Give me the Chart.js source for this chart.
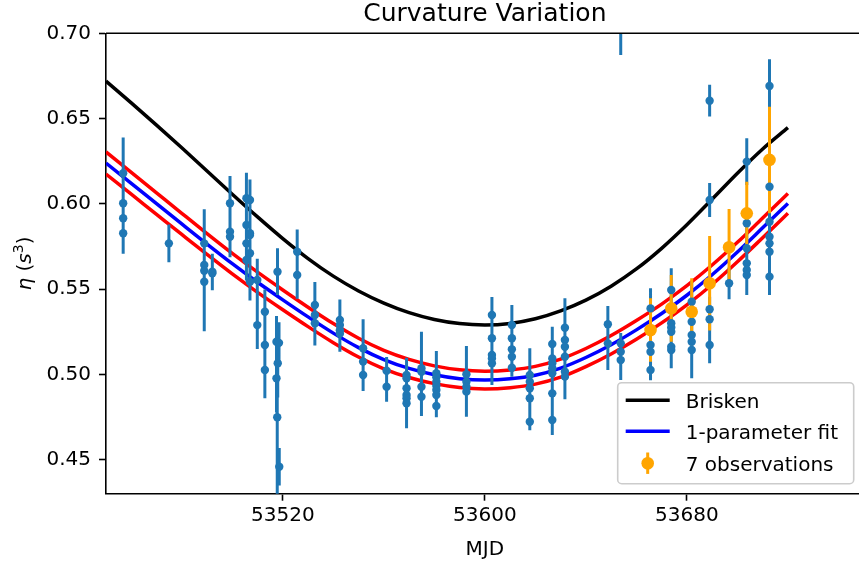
<!DOCTYPE html>
<html>
<head>
<meta charset="utf-8">
<title>Curvature Variation</title>
<script src="https://cdn.jsdelivr.net/npm/chart.js@4.4.1/dist/chart.umd.min.js"></script>
<style>
  html, body { margin: 0; padding: 0; background: #fff; overflow: hidden; }
  canvas { display: block; }
</style>
</head>
<body>
<canvas id="curvChart" width="870" height="567"></canvas>
<script>
const FONT = 'DejaVu Sans';

// tick positions
const xTicks = [53520, 53600, 53680];
const yTicks = [0.45, 0.50, 0.55, 0.60, 0.65, 0.70];

// model curves, every 10 days
const modelMjd = [53450, 53460, 53470, 53480, 53490, 53500, 53510, 53520, 53530, 53540,
                  53550, 53560, 53570, 53580, 53590, 53600, 53610, 53620, 53630, 53640,
                  53650, 53660, 53670, 53680, 53690, 53700, 53710, 53720];
const briskenEta = [0.6720, 0.6592, 0.6462, 0.6329, 0.6193, 0.6057, 0.5924, 0.5797, 0.5680, 0.5577,
                    0.5490, 0.5419, 0.5363, 0.5323, 0.5299, 0.5291, 0.5300, 0.5327, 0.5373, 0.5436,
                    0.5518, 0.5619, 0.5740, 0.5878, 0.6028, 0.6180, 0.6322, 0.6447];
const fitEta = [0.6240, 0.6121, 0.6002, 0.5883, 0.5765, 0.5650, 0.5541, 0.5438, 0.5338, 0.5243,
                0.5158, 0.5088, 0.5036, 0.4999, 0.4976, 0.4968, 0.4975, 0.4996, 0.5038, 0.5100,
                0.5175, 0.5262, 0.5358, 0.5465, 0.5585, 0.5718, 0.5860, 0.6003];
const fitUpper = [0.6305, 0.6185, 0.6065, 0.5945, 0.5826, 0.5710, 0.5600, 0.5496, 0.5395, 0.5299,
                  0.5213, 0.5142, 0.5089, 0.5051, 0.5028, 0.5020, 0.5027, 0.5048, 0.5091, 0.5153,
                  0.5229, 0.5317, 0.5413, 0.5521, 0.5642, 0.5775, 0.5918, 0.6061];
const fitLower = [0.6175, 0.6057, 0.5939, 0.5821, 0.5704, 0.5590, 0.5482, 0.5380, 0.5281, 0.5187,
                  0.5103, 0.5034, 0.4983, 0.4947, 0.4924, 0.4916, 0.4923, 0.4944, 0.4985, 0.5047,
                  0.5121, 0.5207, 0.5303, 0.5409, 0.5528, 0.5661, 0.5802, 0.5945];

// all measurements (blue), one line per observing day
const obsMjd = [
  53456.8, 53456.8, 53456.8, 53456.8,
  53474.9,
  53488.9, 53488.9, 53488.9, 53488.9, 53492.1, 53492.1,
  53499.1, 53499.1, 53499.1,
  53505.6, 53505.6, 53505.6, 53505.6, 53507.0, 53507.0, 53507.0, 53507.0, 53507.0,
  53509.9, 53509.9,
  53512.9, 53512.9, 53512.9,
  53517.9, 53517.5, 53518.5, 53518.0, 53517.5, 53517.8, 53518.6,
  53525.7, 53525.7,
  53532.7, 53532.7, 53532.7,
  53542.6, 53542.6, 53542.6, 53542.6,
  53551.8, 53551.8, 53551.8,
  53561.1, 53561.1,
  53569.0, 53569.0, 53569.0, 53569.0, 53569.0, 53569.0,
  53574.9, 53574.9, 53574.9, 53574.9,
  53580.8, 53580.8, 53580.8, 53580.8, 53580.8, 53580.8, 53580.8,
  53592.7, 53592.7, 53592.7, 53592.7,
  53602.8, 53602.8, 53602.8, 53602.8, 53602.8,
  53610.7, 53610.7, 53610.7, 53610.7, 53610.7,
  53617.8, 53617.8, 53617.8, 53617.8, 53617.8,
  53626.7, 53626.7, 53626.7, 53626.7, 53626.7, 53626.7, 53626.7,
  53631.7, 53631.7, 53631.7, 53631.7, 53631.7, 53631.7,
  53648.7, 53648.7,
  53653.8, 53653.8, 53653.8, 53653.8,
  53665.6, 53665.6, 53665.6, 53665.6,
  53673.8, 53673.8, 53673.8, 53673.8, 53673.8, 53673.8,
  53681.9, 53681.9, 53681.9, 53681.9, 53681.9,
  53689.0, 53689.0, 53689.0, 53689.0, 53689.0,
  53696.7,
  53703.7, 53703.7, 53703.7, 53703.7, 53703.7, 53703.7,
  53712.7, 53712.7, 53712.7, 53712.7, 53712.7, 53712.7, 53712.7
];
const obsEta = [
  0.6180, 0.6004, 0.5916, 0.5828,
  0.5769,
  0.5769, 0.5642, 0.5609, 0.5544, 0.5603, 0.5594,
  0.6004, 0.5837, 0.5808,
  0.6033, 0.5877, 0.5769, 0.5672, 0.6023, 0.5828, 0.5818, 0.5711, 0.5544,
  0.5554, 0.5290,
  0.5368, 0.5173, 0.5027,
  0.5603, 0.5193, 0.5186, 0.5066, 0.4978, 0.4750, 0.4460,
  0.5720, 0.5584,
  0.5408, 0.5349, 0.5301,
  0.5320, 0.5290, 0.5260, 0.5240,
  0.5154, 0.5076, 0.4998,
  0.5023, 0.4929,
  0.4998, 0.4978, 0.4920, 0.4880, 0.4861, 0.4832,
  0.5037, 0.5017, 0.4929, 0.4870,
  0.5008, 0.4985, 0.4958, 0.4935, 0.4910, 0.4880, 0.4816,
  0.5002, 0.4958, 0.4929, 0.4900,
  0.5349, 0.5213, 0.5115, 0.5095, 0.5066,
  0.5291, 0.5213, 0.5148, 0.5105, 0.5040,
  0.4998, 0.4958, 0.4920, 0.4861, 0.4724,
  0.5179, 0.5095, 0.5066, 0.5037, 0.5008, 0.4890, 0.4734,
  0.5275, 0.5203, 0.5163, 0.5105, 0.5017, 0.4988,
  0.5295, 0.5183,
  0.5183, 0.5134, 0.5085, 0.7120,
  0.5388, 0.5173, 0.5134, 0.5027,
  0.5496, 0.5301, 0.5276, 0.5251, 0.5163, 0.5144,
  0.5427, 0.5310, 0.5232, 0.5193, 0.5144,
  0.6605, 0.6023, 0.5383, 0.5324, 0.5173,
  0.5535,
  0.6248, 0.5887, 0.5740, 0.5652, 0.5613, 0.5584,
  0.6691, 0.6101, 0.5896, 0.5808, 0.5769, 0.5720, 0.5574
];
const obsErr = [
  0.0210, 0.0180, 0.0150, 0.0120,
  0.0110,
  0.0200, 0.0150, 0.0120, 0.0290, 0.0105, 0.0100,
  0.0160, 0.0150, 0.0120,
  0.0150, 0.0140, 0.0150, 0.0120, 0.0120, 0.0140, 0.0120, 0.0150, 0.0110,
  0.0125, 0.0140,
  0.0130, 0.0140, 0.0165,
  0.0137, 0.0150, 0.0120, 0.0200, 0.0200, 0.0450, 0.0110,
  0.0130, 0.0140,
  0.0135, 0.0120, 0.0130,
  0.0120, 0.0100, 0.0110, 0.0106,
  0.0170, 0.0120, 0.0094,
  0.0080, 0.0088,
  0.0050, 0.0120, 0.0130, 0.0140, 0.0130, 0.0147,
  0.0214, 0.0150, 0.0150, 0.0113,
  0.0130, 0.0120, 0.0150, 0.0120, 0.0140, 0.0130, 0.0066,
  0.0165, 0.0140, 0.0130, 0.0147,
  0.0106, 0.0150, 0.0150, 0.0140, 0.0127,
  0.0117, 0.0120, 0.0120, 0.0110, 0.0052,
  0.0156, 0.0120, 0.0130, 0.0130, 0.0050,
  0.0102, 0.0120, 0.0120, 0.0130, 0.0120, 0.0150, 0.0088,
  0.0172, 0.0120, 0.0120, 0.0120, 0.0120, 0.0133,
  0.0107, 0.0156,
  0.0060, 0.0100, 0.0117, 0.0247,
  0.0118, 0.0120, 0.0120, 0.0060,
  0.0127, 0.0120, 0.0120, 0.0120, 0.0120, 0.0107,
  0.0120, 0.0120, 0.0120, 0.0120, 0.0166,
  0.0093, 0.0100, 0.0073, 0.0120, 0.0107,
  0.0093,
  0.0137, 0.0040, 0.0120, 0.0120, 0.0120, 0.0118,
  0.0157, 0.0120, 0.0120, 0.0120, 0.0120, 0.0120, 0.0108
];

// the 7 highlighted observations (orange)
const sevenMjd = [53665.6, 53673.8, 53681.9, 53689.0, 53696.7, 53703.7, 53712.7];
const sevenEta = [0.5261, 0.5388, 0.5368, 0.5535, 0.5746, 0.5945, 0.6258];
const sevenErr = [0.0186, 0.0196, 0.0196, 0.0277, 0.0224, 0.0185, 0.0312];

function toPoints(xs, ys) {
  return xs.map((x, i) => ({ x: x, y: ys[i] }));
}

// vertical error bars, drawn through the chart scales
function drawBars(ctx, xs, ys, xv, yv, ev, color) {
  ctx.strokeStyle = color;
  ctx.lineWidth = 3;
  ctx.beginPath();
  for (let i = 0; i < xv.length; i++) {
    const px = xs.getPixelForValue(xv[i]);
    ctx.moveTo(px, ys.getPixelForValue(yv[i] - ev[i]));
    ctx.lineTo(px, ys.getPixelForValue(yv[i] + ev[i]));
  }
  ctx.stroke();
}

// bars go under the markers but over the model curves (like matplotlib zorder)
const errorBarPlugin = {
  id: 'errorBars',
  beforeDatasetDraw(chart, args) {
    if (args.index !== 4) return;
    const a = chart.chartArea;
    const ctx = chart.ctx;
    ctx.save();
    ctx.beginPath();
    ctx.rect(a.left, a.top, a.right - a.left, a.bottom - a.top);
    ctx.clip();
    drawBars(ctx, chart.scales.x, chart.scales.y, obsMjd, obsEta, obsErr, '#1f77b4');
    drawBars(ctx, chart.scales.x, chart.scales.y, sevenMjd, sevenEta, sevenErr, '#ffa500');
    ctx.restore();
  }
};

// title, axis labels, frame and the legend box
const decorPlugin = {
  id: 'decor',
  afterDraw(chart) {
    const ctx = chart.ctx;
    const a = chart.chartArea;
    ctx.save();

    // top and right spines
    ctx.strokeStyle = '#000';
    ctx.lineWidth = 1.6;
    ctx.beginPath();
    ctx.moveTo(a.left, a.top);
    ctx.lineTo(a.right, a.top);
    ctx.lineTo(a.right, a.bottom);
    ctx.stroke();

    ctx.fillStyle = '#000';
    ctx.textBaseline = 'alphabetic';
    ctx.textAlign = 'center';
    ctx.font = '25px "' + FONT + '"';
    ctx.fillText('Curvature Variation', (a.left + a.right) / 2, a.top - 12);

    ctx.font = '20px "' + FONT + '"';
    ctx.fillText('MJD', (a.left + a.right) / 2, a.bottom + 61.5);

    // y label: eta (s^3), mathtext style
    const parts = [
      { t: 'η', f: 'italic 20px', dy: 0 },
      { t: ' (', f: '20px', dy: 0 },
      { t: 's', f: 'italic 20px', dy: 0 },
      { t: '3', f: '14px', dy: -8 },
      { t: ')', f: '20px', dy: 0 }
    ];
    let total = 0;
    parts.forEach(p => {
      ctx.font = p.f + ' "' + FONT + '"';
      p.w = ctx.measureText(p.t).width;
      total += p.w;
    });
    ctx.translate(30.5, (a.top + a.bottom) / 2);
    ctx.rotate(-Math.PI / 2);
    ctx.textAlign = 'left';
    let cx = -total / 2;
    parts.forEach(p => {
      ctx.font = p.f + ' "' + FONT + '"';
      ctx.fillText(p.t, cx, p.dy);
      cx += p.w;
    });
    ctx.setTransform(1, 0, 0, 1, 0, 0);

    // legend, lower right inside the axes
    const w = 236, h = 101;
    const lx = a.right - 10 - w;
    const ly = a.bottom - 10 - h;
    ctx.fillStyle = 'rgba(255,255,255,0.8)';
    ctx.strokeStyle = '#cccccc';
    ctx.lineWidth = 1.6;
    ctx.beginPath();
    ctx.roundRect(lx, ly, w, h, 4);
    ctx.fill();
    ctx.stroke();

    const ds = chart.data.datasets;
    const rows = [
      { label: ds[0].label, color: ds[0].borderColor, kind: 'line', y: ly + 17.5 },
      { label: ds[1].label, color: ds[1].borderColor, kind: 'line', y: ly + 48.5 },
      { label: ds[5].label, color: ds[5].backgroundColor, kind: 'err', y: ly + 80.5 }
    ];
    rows.forEach(r => {
      if (r.kind === 'line') {
        ctx.strokeStyle = r.color;
        ctx.lineWidth = 3.5;
        ctx.beginPath();
        ctx.moveTo(lx + 8, r.y);
        ctx.lineTo(lx + 52, r.y);
        ctx.stroke();
      } else {
        ctx.strokeStyle = r.color;
        ctx.lineWidth = 3;
        ctx.beginPath();
        ctx.moveTo(lx + 30, r.y - 10.7);
        ctx.lineTo(lx + 30, r.y + 10.7);
        ctx.stroke();
        ctx.fillStyle = r.color;
        ctx.beginPath();
        ctx.arc(lx + 30, r.y, 6.3, 0, Math.PI * 2);
        ctx.fill();
      }
      ctx.fillStyle = '#000';
      ctx.font = '20px "' + FONT + '"';
      ctx.textAlign = 'left';
      ctx.fillText(r.label, lx + 68, r.y + 7.3);
    });
    ctx.restore();
  }
};

const lineStyle = { type: 'line', pointRadius: 0, borderWidth: 3.5, cubicInterpolationMode: 'monotone', fill: false };

new Chart(document.getElementById('curvChart'), {
  type: 'scatter',
  data: {
    datasets: [
      Object.assign({}, lineStyle, { label: 'Brisken', data: toPoints(modelMjd, briskenEta), borderColor: '#000000', order: 5 }),
      Object.assign({}, lineStyle, { label: '1-parameter fit', data: toPoints(modelMjd, fitEta), borderColor: '#0000ff', order: 4 }),
      Object.assign({}, lineStyle, { label: 'fit +1 sigma', data: toPoints(modelMjd, fitUpper), borderColor: '#ff0000', order: 3 }),
      Object.assign({}, lineStyle, { label: 'fit -1 sigma', data: toPoints(modelMjd, fitLower), borderColor: '#ff0000', order: 2 }),
      {
        label: 'all observations',
        data: toPoints(obsMjd, obsEta),
        backgroundColor: '#1f77b4',
        borderColor: '#1f77b4',
        borderWidth: 0,
        pointRadius: 4.2,
        clip: 0,
        order: 1
      },
      {
        label: '7 observations',
        data: toPoints(sevenMjd, sevenEta),
        backgroundColor: '#ffa500',
        borderColor: '#ffa500',
        borderWidth: 0,
        pointRadius: 6.3,
        clip: 0,
        order: 0
      }
    ]
  },
  options: {
    responsive: false,
    animation: false,
    events: [],
    layout: { padding: { top: 33.3, right: 5.7, bottom: 0, left: 0 } },
    plugins: {
      legend: { display: false },
      title: { display: false },
      tooltip: { enabled: false }
    },
    scales: {
      x: {
        type: 'linear',
        min: 53450,
        max: 53750,
        afterBuildTicks: s => { s.ticks = xTicks.map(v => ({ value: v })); },
        afterFit: s => { s.height = 73.3; },
        grid: { display: true, drawOnChartArea: false, drawTicks: true, tickLength: 7, tickWidth: 1.6, tickColor: '#000' },
        border: { display: true, color: '#000', width: 1.6 },
        ticks: {
          color: '#000',
          font: { family: FONT, size: 20 },
          padding: 3,
          maxRotation: 0,
          autoSkip: false,
          callback: v => String(v)
        }
      },
      y: {
        type: 'linear',
        min: 0.4302,
        max: 0.70,
        afterBuildTicks: s => { s.ticks = yTicks.map(v => ({ value: v })); },
        afterFit: s => { s.width = 106; },
        grid: { display: true, drawOnChartArea: false, drawTicks: true, tickLength: 7, tickWidth: 1.6, tickColor: '#000' },
        border: { display: true, color: '#000', width: 1.6 },
        ticks: {
          color: '#000',
          font: { family: FONT, size: 20 },
          padding: 8,
          autoSkip: false,
          callback: v => v.toFixed(2)
        }
      }
    }
  },
  plugins: [errorBarPlugin, decorPlugin]
});
</script>
</body>
</html>
